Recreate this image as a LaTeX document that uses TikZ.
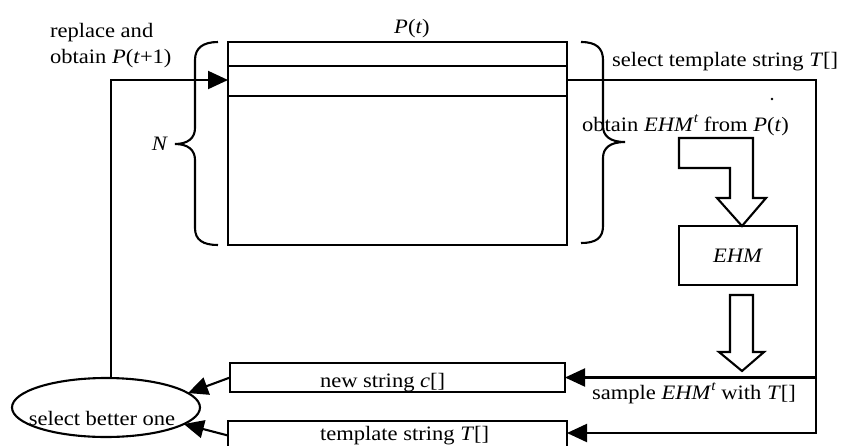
\documentclass[tikz,border=0pt]{standalone}
\usepackage{fontspec}
\setmainfont{Liberation Serif}[FakeStretch=1.1]
\usetikzlibrary{arrows.meta,shapes.geometric}

% small raised italic t used as an exponent in running text
\newcommand\supt{\raisebox{0.42em}{\fontsize{14}{14}\selectfont\itshape t}}

\begin{document}
\begin{tikzpicture}[x=1pt,y=-1pt,
  line width=2.1pt,
  every node/.style={font=\fontsize{20.5}{24}\selectfont, inner sep=0pt, outer sep=0pt},
  tip/.style={-{Triangle[length=20pt,width=18pt]}},
  box/.style={draw, rectangle},
  txt/.style={anchor=base west},
]
\useasboundingbox (0,0) rectangle (841,445);
\clip (0,0) rectangle (841,445);

% population table P(t)
\node[box, anchor=north west, minimum width=339pt, minimum height=203pt] (pop) at (228,42) {};
\draw ([yshift=-24pt]pop.north west) -- ([yshift=-24pt]pop.north east);
\draw ([yshift=-54pt]pop.north west) -- ([yshift=-54pt]pop.north east);
\node[anchor=base] (pt) at (412,33) {\textit{P}(\textit{t})};

% braces around the table
\draw (218,42) .. controls (203,42) and (195,48) .. (195,60) -- (195,128)
  .. controls (195,138) and (188,144) .. (175,144)
  .. controls (188,144) and (195,150) .. (195,160) -- (195,228)
  .. controls (195,240) and (203,245) .. (218,245);
\node (nlab) at (160,144) {\textit{N}};
\draw (581,42) .. controls (596,42) and (603,48) .. (603,60) -- (603,126)
  .. controls (603,136) and (610,142) .. (625,142)
  .. controls (610,142) and (603,148) .. (603,158) -- (603,226)
  .. controls (603,238) and (596,243) .. (581,243);

% EHM model and block arrows
\node[box, anchor=north west, minimum width=118pt, minimum height=59pt] (ehm) at (679,226) {\textit{EHM}};
\draw[fill=white] (679,138) -- (753,138) -- (753,198) -- (766,198) -- (742,226)
  -- (717,198) -- (730,198) -- (730,168) -- (679,168) -- cycle;
\draw[fill=white] (730,295) -- (753,295) -- (753,352) -- (764,352) -- (742,371)
  -- (719,352) -- (730,352) -- cycle;

% strings and selection
\node[box, anchor=north west, minimum width=335pt, minimum height=29pt] (newc) at (230,363) {};
\node[box, anchor=north west, minimum width=339pt, minimum height=29pt] (tmpl) at (228,421) {};
\node[draw, ellipse, minimum width=188pt, minimum height=59pt] (sel) at (106,407.5) {};
\node[anchor=base] (selt) at (102,425) {select better one};

% connectors
\coordinate (ret) at (111,80);
\coordinate (rtop) at (816,80);
\coordinate (rmid) at (816,377.5);
\coordinate (rbot) at (816,433);
\draw[tip] (sel.north -| ret) -- (ret) -- (ret -| pop.west);
\draw[tip] (rtop -| pop.east) -- (rtop) -- (rbot) -- (rbot -| tmpl.east);
\draw[tip] (rmid) -- (newc.east);
\draw[tip] (newc.west) -- (sel.10);
\draw[tip] (tmpl.west) -- (sel.-12);
\fill (772,99) circle (1.3pt);

% labels
\node[txt] (rep1) at (50,37) {replace and};
\node[txt] (rep2) at (50,63) {obtain \textit{P}(\textit{t}+1)};
\node[txt] (selT) at (612,66) {select template string \textit{T}[]};
\node[txt] (obt) at (582,131) {obtain \textit{EHM}\supt{} from \textit{P}(\textit{t})};
\node[txt] (samp) at (592,399) {sample \textit{EHM}\supt{} with \textit{T}[]};
\node[txt] (newct) at (320,387) {new string \textit{c}[]};
\node[txt] (tmplt) at (320,440) {template string \textit{T}[]};
\end{tikzpicture}
\end{document}
